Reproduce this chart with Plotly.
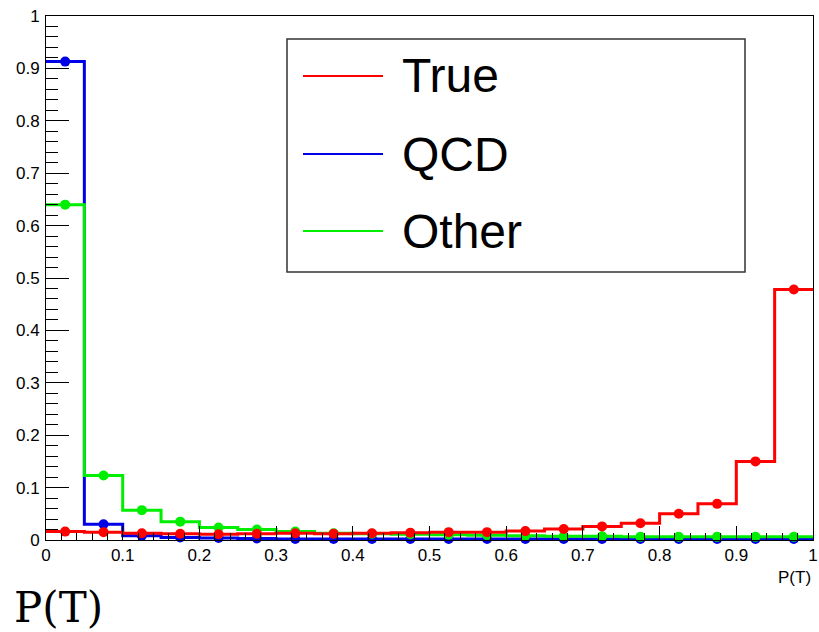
import plotly.graph_objects as go

# ---- data -------------------------------------------------------------
bin_edges = [round(i * 0.05, 2) for i in range(21)]
bin_centers = [round(0.025 + i * 0.05, 3) for i in range(20)]

true_vals = [0.016, 0.015, 0.013, 0.012, 0.011, 0.012, 0.013, 0.012, 0.013, 0.014,
             0.015, 0.015, 0.017, 0.021, 0.026, 0.032, 0.050, 0.069, 0.150, 0.478]
qcd_vals = [0.913, 0.030, 0.008, 0.005, 0.004, 0.003, 0.002, 0.002, 0.002, 0.002,
            0.002, 0.002, 0.002, 0.002, 0.002, 0.002, 0.002, 0.002, 0.002, 0.002]
other_vals = [0.640, 0.123, 0.057, 0.035, 0.024, 0.020, 0.016, 0.013, 0.012, 0.011,
              0.010, 0.009, 0.008, 0.007, 0.007, 0.006, 0.006, 0.006, 0.006, 0.006]

series_names = ["True", "QCD", "Other"]
series_colors = {"True": "#ff0000", "QCD": "#0000e6", "Other": "#00ee00"}
series_vals = {"True": true_vals, "QCD": qcd_vals, "Other": other_vals}
draw_order = ["QCD", "Other", "True"]

y_ticks = [round(i * 0.1, 1) for i in range(11)]
x_ticks = [round(i * 0.1, 1) for i in range(11)]

# ---- layout geometry (pixels) ----------------------------------------
W_FIG, H_FIG = 819, 632
L, R, T, B = 46, 6, 16, 92
PW = W_FIG - L - R
PH = H_FIG - T - B


def px_x(p):
    return (p - L) / PW


def px_y(p):
    return (H_FIG - B - p) / PH


fig = go.Figure()

for name in draw_order:
    vals = series_vals[name]
    col = series_colors[name]
    fig.add_trace(go.Scatter(
        x=bin_edges, y=vals + [vals[-1]], mode="lines",
        line=dict(color=col, width=3, shape="hv"),
        showlegend=False, cliponaxis=False, hoverinfo="skip"))
    fig.add_trace(go.Scatter(
        x=bin_centers, y=vals, mode="markers",
        marker=dict(color=col, size=10, symbol="circle"),
        showlegend=False, cliponaxis=False, name=name))

tick_font = dict(family="Liberation Sans, Arial, sans-serif", size=17, color="black")

fig.update_xaxes(
    range=[0, 1], tickvals=x_ticks, ticks="inside", ticklen=14, tickwidth=1,
    tickcolor="black", showline=True, linecolor="black", linewidth=1, mirror=True,
    showgrid=False, zeroline=False, tickfont=tick_font, ticklabeloverflow="allow",
    automargin=False,
    minor=dict(dtick=0.02, ticks="inside", ticklen=7, tickcolor="black", showgrid=False))
fig.update_yaxes(
    range=[0, 1], tickvals=y_ticks, ticks="inside", ticklen=23, tickwidth=1,
    tickcolor="black", showline=True, linecolor="black", linewidth=1, mirror=True,
    showgrid=False, zeroline=False, tickfont=tick_font, ticklabelstandoff=2,
    automargin=False,
    minor=dict(dtick=0.02, ticks="inside", ticklen=12, tickcolor="black", showgrid=False))

# ---- legend box (drawn manually, ROOT style) --------------------------
shapes = [dict(type="rect", xref="paper", yref="paper",
               x0=px_x(287), x1=px_x(745), y0=px_y(272), y1=px_y(39),
               line=dict(color="#333333", width=1.5), fillcolor="white", layer="above")]
annotations = []
row_y = [76, 154, 231]
for name, yy in zip(series_names, row_y):
    shapes.append(dict(type="line", xref="paper", yref="paper",
                       x0=px_x(303), x1=px_x(383), y0=px_y(yy), y1=px_y(yy),
                       line=dict(color=series_colors[name], width=2), layer="above"))
    annotations.append(dict(text=name, xref="paper", yref="paper",
                            x=px_x(400), y=px_y(yy), xanchor="left", yanchor="middle",
                            showarrow=False,
                            font=dict(family="Liberation Sans, Arial, sans-serif",
                                      size=48, color="black")))

# axis title at right end
annotations.append(dict(text="P(T)", xref="paper", yref="paper",
                        x=1, y=px_y(577), xanchor="right", yanchor="middle",
                        showarrow=False, font=tick_font))

fig.update_layout(
    width=W_FIG, height=H_FIG,
    margin=dict(l=L, r=R, t=T, b=B),
    paper_bgcolor="white", plot_bgcolor="white",
    shapes=shapes, annotations=annotations,
    title=dict(text="P(T)", x=14 / W_FIG, xanchor="left", xref="container",
               y=1 - 607 / H_FIG, yanchor="middle", yref="container",
               font=dict(family="DejaVu Serif, serif", size=42, color="black")),
    showlegend=False,
)

fig.write_html("out.html")
